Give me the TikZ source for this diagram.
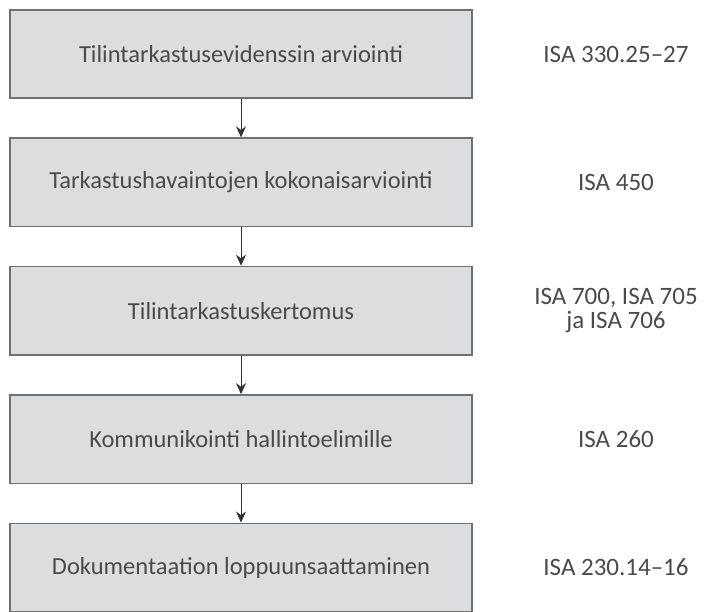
\documentclass[tikz,border=0pt]{standalone}
\usepackage{fontspec}
\setmainfont{Carlito}
\usetikzlibrary{positioning,arrows.meta}

\definecolor{boxfill}{HTML}{DCDDDF}
\definecolor{boxline}{HTML}{707070}
\definecolor{txtgray}{HTML}{4A4A4A}

\tikzset{
  stagebox/.style={draw=boxline, line width=1.6pt, fill=boxfill,
    minimum width=462pt, minimum height=88.5pt, inner sep=0pt,
    text=txtgray, font=\fontsize{24.5}{28}\selectfont},
  isalabel/.style={text=txtgray, align=center,
    font=\fontsize{25}{24}\selectfont},
  flow/.style={-{Stealth[length=11pt,width=10pt]}, draw=black!80, line width=1pt}
}

\begin{document}
\begin{tikzpicture}[x=1pt,y=1pt,node distance=128.4pt]
  \useasboundingbox (0,0) rectangle (711,612);

  \node[stagebox] (s1) at (241,558) {Tilintarkastusevidenssin arviointi};
  \node[stagebox] (s2) [below of=s1] {Tarkastushavaintojen kokonaisarviointi};
  \node[stagebox] (s3) [below of=s2] {Tilintarkastuskertomus};
  \node[stagebox] (s4) [below of=s3] {Kommunikointi hallintoelimille};
  \node[stagebox] (s5) [below of=s4] {Dokumentaation loppuunsaattaminen};

  \node[isalabel] (i1) [right of=s1, node distance=375pt] {ISA 330.25--27};
  \node[isalabel] (i2) [right of=s2, node distance=375pt] {ISA 450};
  \node[isalabel] (i3) [right of=s3, node distance=375pt] {ISA 700, ISA 705\\ja ISA 706};
  \node[isalabel] (i4) [right of=s4, node distance=375pt] {ISA 260};
  \node[isalabel] (i5) [right of=s5, node distance=375pt] {ISA 230.14--16};

  \foreach \a/\b in {s1/s2,s2/s3,s3/s4,s4/s5}
    \draw[flow] (\a) -- (\b);
\end{tikzpicture}
\end{document}
